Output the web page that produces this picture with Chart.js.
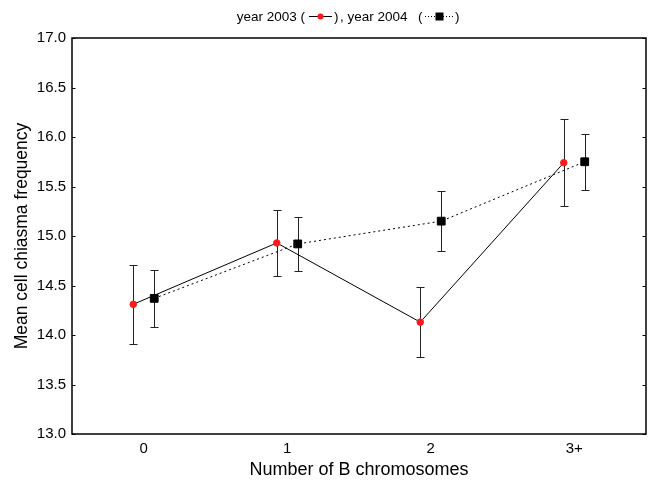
<!DOCTYPE html>
<html>
<head>
<meta charset="utf-8">
<script src="https://cdn.jsdelivr.net/npm/chart.js@4.4.0/dist/chart.umd.min.js"></script>
<style>
html,body{margin:0;padding:0;background:#fff;}
#wrap{width:648px;height:482px;position:relative;}
</style>
</head>
<body>
<div id="wrap"><canvas id="c" width="648" height="482"></canvas></div>
<script>
const categories = ["0", "1", "2", "3+"];
const mean2003 = [14.31, 14.93, 14.13, 15.74];
const err2003  = [0.40, 0.33, 0.35, 0.44];
const mean2004 = [14.37, 14.92, 15.15, 15.75];
const err2004  = [0.285, 0.27, 0.30, 0.285];
const yTicks = [13.0, 13.5, 14.0, 14.5, 15.0, 15.5, 16.0, 16.5, 17.0];
const offset = 0.073;

const FONT = '"Liberation Sans", Arial, Helvetica, sans-serif';

const pts2003 = mean2003.map((v, i) => ({x: i - offset, y: v, e: err2003[i]}));
const pts2004 = mean2004.map((v, i) => ({x: i + offset, y: v, e: err2004[i]}));

const errorBars = {
  id: 'errorBars',
  beforeDatasetsDraw(chart) {
    const {ctx, scales: {x, y}} = chart;
    ctx.save();
    ctx.lineWidth = 1;
    ctx.strokeStyle = '#222';
    chart.data.datasets.forEach(ds => {
      ds.data.forEach(p => {
        const px = Math.round(x.getPixelForValue(p.x)) + 0.5;
        const yt = Math.round(y.getPixelForValue(p.y + p.e)) + 0.5;
        const yb = Math.round(y.getPixelForValue(p.y - p.e)) + 0.5;
        ctx.beginPath();
        ctx.moveTo(px, yt); ctx.lineTo(px, yb);
        ctx.moveTo(px - 4, yt); ctx.lineTo(px + 4, yt);
        ctx.moveTo(px - 4, yb); ctx.lineTo(px + 4, yb);
        ctx.stroke();
      });
    });
    ctx.restore();
  }
};

const frame = {
  id: 'frame',
  afterDraw(chart) {
    const {ctx, chartArea: a, scales: {y}} = chart;
    ctx.save();
    ctx.strokeStyle = '#000';
    ctx.lineWidth = 1.5;
    ctx.strokeRect(a.left, a.top, a.right - a.left, a.bottom - a.top);
    ctx.lineWidth = 1;
    y.ticks.forEach(t => {
      const py = Math.round(y.getPixelForValue(t.value)) + 0.5;
      ctx.beginPath();
      ctx.moveTo(a.left, py); ctx.lineTo(a.left + 3.5, py);
      ctx.moveTo(a.right, py); ctx.lineTo(a.right - 3.5, py);
      ctx.stroke();
    });
    // title legend
    ctx.font = '13.5px ' + FONT;
    ctx.fillStyle = '#000';
    ctx.textBaseline = 'alphabetic';
    const by = 21, my = 16.5;
    ctx.textAlign = 'right';
    ctx.fillText('year 2003 (', 305, by);
    ctx.textAlign = 'left';
    ctx.fillText(')', 334, by);
    ctx.fillText(', year 2004', 340, by);
    ctx.fillText('(', 418, by);
    ctx.fillText(')', 455, by);
    // symbol 1
    ctx.strokeStyle = '#000';
    ctx.lineWidth = 1;
    ctx.beginPath();
    ctx.moveTo(309, my); ctx.lineTo(332, my);
    ctx.stroke();
    ctx.fillStyle = '#ff1a1a';
    ctx.beginPath(); ctx.arc(320.5, my, 3, 0, Math.PI * 2); ctx.fill();
    // symbol 2
    ctx.setLineDash([1, 2]);
    ctx.beginPath();
    ctx.moveTo(425, my); ctx.lineTo(453, my);
    ctx.stroke();
    ctx.setLineDash([]);
    ctx.fillStyle = '#000';
    ctx.fillRect(435.5, my - 4, 8, 8);
    ctx.restore();
  }
};

new Chart(document.getElementById('c'), {
  type: 'scatter',
  data: {
    datasets: [
      {
        label: 'year 2003',
        data: pts2003,
        showLine: true,
        borderColor: '#000',
        borderWidth: 1,
        pointBackgroundColor: '#ff1a1a',
        pointBorderColor: '#ff1a1a',
        pointRadius: 3.3,
        pointStyle: 'circle'
      },
      {
        label: 'year 2004',
        data: pts2004,
        showLine: true,
        borderColor: '#000',
        borderWidth: 1,
        borderDash: [2, 3],
        pointBackgroundColor: '#000',
        pointBorderColor: '#000',
        pointRadius: 5.5,
        pointStyle: 'rect'
      }
    ]
  },
  options: {
    responsive: false,
    animation: false,
    layout: {autoPadding: false, padding: {top: 38, right: 2, left: 0, bottom: 0}},
    plugins: {legend: {display: false}, tooltip: {enabled: false}, title: {display: false}},
    scales: {
      x: {
        type: 'linear',
        min: -0.5,
        max: 3.5,
        afterBuildTicks(s) { s.ticks = categories.map((c, i) => ({value: i})); },
        afterFit(s) { s.height = 48; s.paddingLeft = 0; s.paddingRight = 0; s.paddingTop = 0; s.paddingBottom = 0; },
        grid: {display: false, drawTicks: false},
        border: {display: false},
        ticks: {
          padding: 6,
          color: '#000',
          font: {family: FONT, size: 15},
          callback: v => categories[v]
        },
        title: {display: true, text: 'Number of B chromosomes', color: '#000', font: {family: FONT, size: 18}, padding: {top: 2, bottom: 1}}
      },
      y: {
        min: 13,
        max: 17,
        afterBuildTicks(s) { s.ticks = yTicks.map(v => ({value: v})); },
        afterFit(s) { s.width = 72; s.paddingLeft = 0; s.paddingRight = 0; s.paddingTop = 0; s.paddingBottom = 0; },
        grid: {display: false, drawTicks: false},
        border: {display: false},
        ticks: {
          padding: 6,
          color: '#000',
          font: {family: FONT, size: 15},
          callback: v => v.toFixed(1)
        },
        title: {display: true, text: 'Mean cell chiasma frequency', color: '#000', font: {family: FONT, size: 17.5}, padding: {top: 12, bottom: 4}}
      }
    }
  },
  plugins: [errorBars, frame]
});
</script>
</body>
</html>
